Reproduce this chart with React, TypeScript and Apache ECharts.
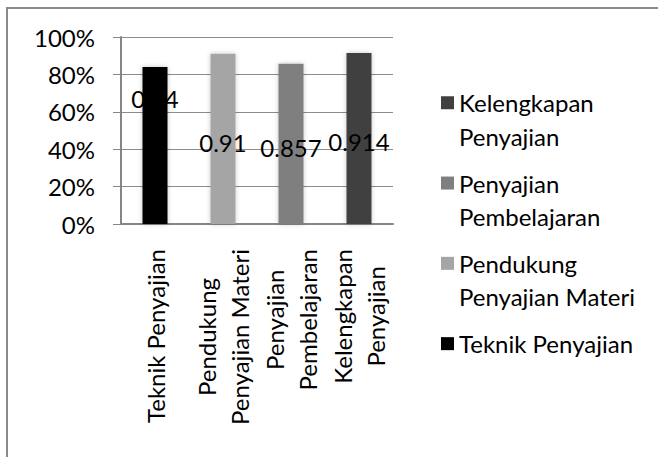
import React, { useEffect, useRef } from "react";
import * as echarts from "echarts";

// Aspek penilaian penyajian and their scores (fraction of 1)
const categories = [
  "Teknik Penyajian",
  "Pendukung Penyajian Materi",
  "Penyajian Pembelajaran",
  "Kelengkapan Penyajian",
];
const categoryLines = [
  ["Teknik Penyajian"],
  ["Pendukung", "Penyajian Materi"],
  ["Penyajian", "Pembelajaran"],
  ["Kelengkapan", "Penyajian"],
];
const scores = [0.84, 0.91, 0.857, 0.914];
const barColors = ["#000000", "#a5a5a5", "#7f7f7f", "#404040"];
const labelSpots = [
  ["50%", "20%"],
  ["50%", "52%"],
  ["50%", "52%"],
  ["50%", "52%"],
];
const legendOrder = [3, 2, 1, 0];

const FONT = "Lato";
const FS = 24;
const LH = 33.5;

// legend marker: a 13px square near the top of a 13x67 box, so it sits beside the first text line
const legendIcon = "path://M0 0M13 67M0 10.25h13v13h-13z";

export default function App() {
  const ref = useRef<HTMLDivElement>(null);

  useEffect(() => {
    if (!ref.current) return;
    const chart = echarts.init(ref.current, null, { renderer: "svg" });

    const series = categories.map((name, i) => ({
      name,
      type: "bar",
      stack: "skor",
      barWidth: 25,
      data: scores.map((v, j) => (j === i ? v : null)),
      itemStyle: {
        color: barColors[i],
        shadowBlur: 5,
        shadowColor: "rgba(0,0,0,0.22)",
      },
      label: {
        show: true,
        position: labelSpots[i],
        align: "center",
        verticalAlign: "middle",
        color: "#000",
        fontFamily: FONT,
        fontSize: FS,
      },
    }));

    chart.setOption({
      animation: false,
      backgroundColor: "#fff",
      textStyle: { fontFamily: FONT },
      graphic: [
        {
          type: "rect",
          shape: { x: 7, y: 8, width: 720, height: 520 },
          style: { fill: "none", stroke: "#898989", lineWidth: 2 },
          silent: true,
        },
      ],
      grid: { left: 121, right: 265, top: 37, bottom: 233 },
      xAxis: {
        type: "category",
        data: categories,
        axisLine: { lineStyle: { color: "#868686", width: 2 } },
        axisTick: { show: false },
        axisLabel: {
          interval: 0,
          rotate: 90,
          margin: 25,
          color: "#000",
          fontFamily: FONT,
          fontSize: FS,
          lineHeight: LH,
          formatter: (_v: string, idx: number) =>
            categoryLines[idx].map((l) => `{c|${l}}`).join("\n"),
          rich: {
            c: {
              align: "center",
              fontFamily: FONT,
              fontSize: FS,
              lineHeight: LH,
              color: "#000",
            },
          },
        },
      },
      yAxis: {
        type: "value",
        min: 0,
        max: 1,
        interval: 0.2,
        axisLine: { show: true, lineStyle: { color: "#868686", width: 2 } },
        axisTick: { show: true, length: 8, lineStyle: { color: "#868686" } },
        splitLine: { lineStyle: { color: "#8c8c8c", width: 1 } },
        axisLabel: {
          margin: 26,
          color: "#000",
          fontFamily: FONT,
          fontSize: FS,
          formatter: (v: number) => `${Math.round(v * 100)}%`,
        },
      },
      legend: {
        orient: "vertical",
        left: 436,
        top: 81,
        itemWidth: 13,
        itemHeight: 67,
        itemGap: 13.3,
        data: legendOrder.map((i) => ({ name: categories[i], icon: legendIcon })),
        formatter: (name: string) => {
          const lines = categoryLines[categories.indexOf(name)];
          return lines.length > 1 ? lines.join("\n") : lines[0] + "\n ";
        },
        textStyle: {
          color: "#000",
          fontFamily: FONT,
          fontSize: FS,
          lineHeight: LH,
        },
      },
      series,
    });

    return () => chart.dispose();
  }, []);

  return (
    <div
      ref={ref}
      style={{ position: "fixed", left: 0, top: 0, width: 658, height: 457 }}
    />
  );
}
